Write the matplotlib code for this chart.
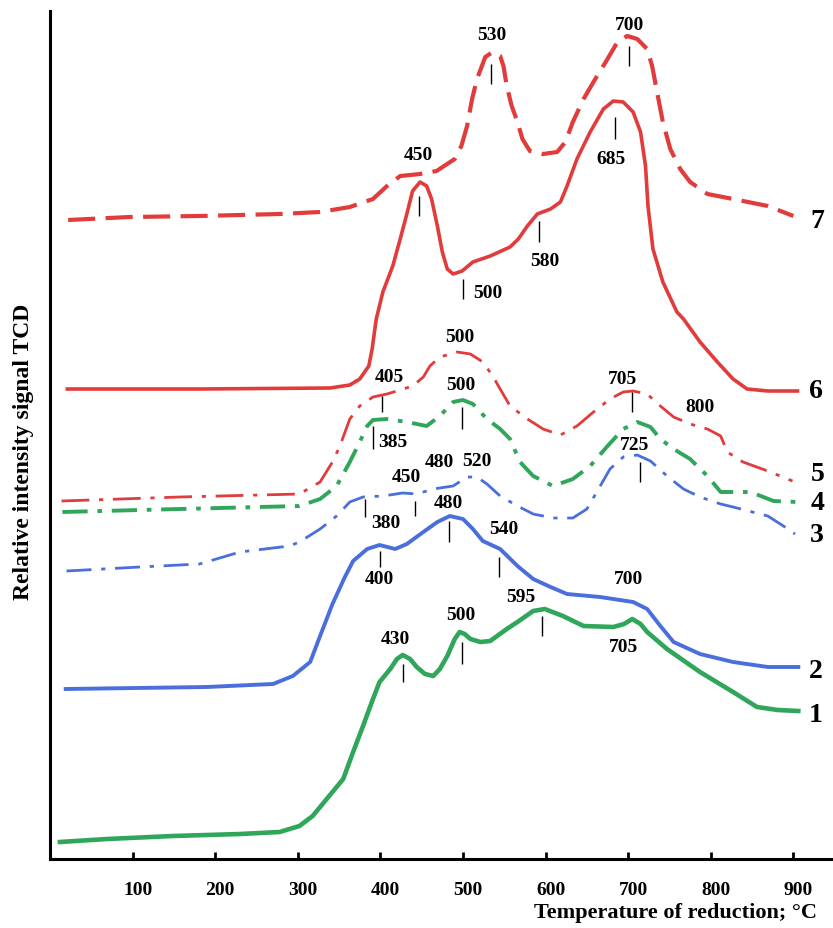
import matplotlib
matplotlib.use('Agg')
import matplotlib.pyplot as plt
import matplotlib.transforms as mtransforms

plt.rcParams['font.family'] = ['Liberation Serif', 'DejaVu Serif']
plt.rcParams['font.weight'] = 'bold'

# curve 1 (green, solid)
t1 = [12, 69, 149, 230, 278, 302, 318, 335, 355, 367, 379, 391, 399, 412, 420, 427, 436, 444, 454, 464,
      472, 481, 490, 496, 502, 509, 521, 533, 553, 566, 585, 599, 621, 646, 682, 695, 705, 715, 723,
      747, 787, 827, 856, 881, 906]
s1 = [1.7, 2.0, 2.3, 2.5, 2.7, 3.3, 4.3, 6.0, 8.0, 10.7, 13.3, 16.0, 17.7, 19.0, 20.0, 20.4, 20.0, 19.2, 18.5, 18.3,
      19.0, 20.3, 22.0, 22.7, 22.5, 22.0, 21.7, 21.8, 23.0, 23.7, 24.8, 25.0, 24.3, 23.3, 23.2, 23.5, 24.0, 23.5, 22.7,
      21.0, 18.7, 16.7, 15.2, 14.9, 14.8]

# curve 2 (blue, solid)
t2 = [19, 190, 270, 294, 315, 327, 342, 357, 367, 384, 399, 418, 432, 452, 469, 484, 500, 512,
      524, 545, 566, 585, 606, 626, 666, 706, 723, 739, 755, 787, 827, 869, 906]
s2 = [17.0, 17.2, 17.5, 18.3, 19.7, 22.3, 25.5, 28.2, 29.8, 31.0, 31.4, 31.0, 31.5, 32.7, 33.7, 34.3, 34.0, 33.0,
      31.8, 31.0, 29.3, 28.0, 27.2, 26.5, 26.2, 25.7, 25.0, 23.3, 21.7, 20.5, 19.7, 19.2, 19.2]

# curve 3 (blue, dash-dot)
t3 = [20, 109, 181, 230, 290, 302, 327, 347, 363, 379, 403, 427, 444, 464, 488, 505, 517, 529,
      545, 566, 585, 609, 633, 650, 662, 678, 694, 711, 727, 747, 767, 787, 812, 827, 869, 888, 902]
s3 = [28.8, 29.2, 29.5, 30.7, 31.3, 31.7, 33.0, 34.3, 35.7, 36.2, 36.3, 36.6, 36.5, 37.0, 37.3, 38.2, 38.2, 37.5,
      36.3, 35.3, 34.5, 34.1, 34.1, 35.0, 36.7, 39.0, 40.2, 40.4, 39.8, 38.3, 37.0, 36.2, 35.5, 35.2, 34.3, 33.3, 32.5]

# curve 4 (green, dash-dot)
t4 = [15, 157, 302, 327, 347, 363, 375, 384, 391, 408, 432, 456, 472, 488, 500, 512, 529, 545,
      557, 569, 585, 609, 633, 654, 675, 694, 711, 727, 739, 755, 775, 796, 812, 848, 876, 905]
s4 = [34.7, 35.0, 35.3, 36.0, 37.3, 39.7, 41.7, 43.3, 43.9, 44.0, 43.7, 43.3, 44.3, 45.7, 45.9, 45.5, 44.0, 43.0,
      42.0, 39.7, 38.3, 37.3, 38.0, 39.3, 41.3, 43.0, 43.7, 43.2, 42.0, 41.0, 40.0, 38.3, 36.7, 36.7, 35.8, 35.7]

# curve 5 (red, dash-dot)
t5 = [14, 157, 302, 327, 342, 351, 363, 375, 391, 408, 424, 439, 452, 460, 472, 493, 509, 524,
      536, 545, 557, 578, 597, 618, 638, 658, 678, 694, 706, 723, 739, 755, 775, 796, 812, 820,
      839, 869, 899]
s5 = [35.8, 36.2, 36.5, 37.7, 39.7, 41.3, 44.0, 45.3, 46.2, 46.5, 46.9, 47.3, 48.2, 49.3, 50.2, 50.7, 50.5, 49.7,
      48.3, 47.0, 45.3, 44.0, 43.0, 42.4, 43.3, 44.7, 46.0, 46.7, 46.8, 46.5, 45.3, 44.2, 43.5, 43.0, 42.3, 40.7,
      39.7, 38.8, 37.8]

# curve 6 (red, solid)
t6 = [21, 181, 339, 363, 375, 386, 390, 395, 403, 415, 424, 432, 439, 448, 456, 462, 469, 475,
      481, 488, 499, 512, 533, 557, 567, 578, 590, 606, 618, 626, 638, 654, 670, 682, 694, 706,
      715, 721, 724, 730, 742, 759, 767, 787, 808, 827, 844, 869, 905]
s6 = [47.0, 47.0, 47.1, 47.4, 48.0, 49.3, 51.0, 54.0, 56.7, 59.3, 62.0, 64.5, 66.8, 67.7, 67.3, 66.0, 63.3, 60.7,
      59.0, 58.5, 58.8, 59.7, 60.3, 61.2, 62.0, 63.3, 64.5, 65.0, 65.7, 67.3, 70.0, 72.7, 75.0, 75.8, 75.7, 74.7,
      72.7, 69.3, 65.3, 61.0, 57.7, 54.7, 54.0, 51.7, 49.7, 48.0, 47.0, 46.8, 46.8]

# curve 7 (red, dashed)
t7 = [22, 96, 181, 278, 327, 363, 391, 408, 424, 448, 468, 490, 498, 505, 511, 517, 527, 536,
      545, 549, 553, 559, 566, 572, 581, 597, 614, 624, 633, 646, 658, 675, 687, 699, 711, 723,
      729, 735, 742, 751, 763, 775, 796, 827, 869, 900]
s7 = [63.9, 64.2, 64.3, 64.5, 64.7, 65.2, 66.0, 67.3, 68.3, 68.5, 68.8, 70.0, 71.3, 73.3, 76.0, 78.0, 80.2, 80.7,
      80.3, 79.3, 77.3, 75.3, 73.7, 72.0, 70.8, 70.5, 70.7, 71.7, 73.7, 76.0, 77.7, 80.0, 81.7, 82.3, 82.0, 81.0,
      79.3, 76.7, 73.7, 71.0, 69.0, 67.7, 66.5, 66.0, 65.3, 64.3]

# peak labels: text, x, y
peak_text = ['530', '700', '450', '685', '580', '500', '500', '405', '705', '800', '500', '385', '725',
             '450', '480', '520', '380', '480', '540', '400', '700', '595', '500', '705', '430']
peak_x = [535, 702, 446, 679, 599, 530, 496, 411, 693, 787, 497, 415, 708,
          432, 472, 517, 407, 482, 550, 399, 700, 570, 497, 694, 418]
peak_y = [82.5, 83.5, 70.4, 70.0, 59.8, 56.7, 52.2, 48.3, 48.1, 45.3, 47.4, 41.7, 41.4,
          38.3, 39.7, 39.8, 33.7, 35.6, 33.0, 28.0, 28.0, 26.3, 24.5, 21.2, 22.0]

# small marker strokes under peaks: x, top, bottom
mark_x = [534, 701, 447, 684, 592, 500, 402, 499, 705, 391, 714, 381, 442, 483, 544, 399, 596, 499, 427]
mark_top = [79.5, 81.3, 66.3, 74.2, 63.8, 58.0, 46.3, 45.2, 46.7, 43.3, 39.7, 36.0, 35.8, 33.8, 30.2, 30.8, 24.3, 21.7, 19.5]
mark_bot = [77.5, 79.3, 64.3, 72.0, 61.7, 56.0, 44.7, 43.0, 44.7, 41.0, 37.7, 34.2, 34.3, 31.7, 28.2, 29.2, 22.3, 19.5, 17.7]

# curve numbers at the right end
num_text = ['7', '6', '5', '4', '3', '2', '1']
num_x = [929, 927, 929, 929, 929, 927, 927]
num_y = [63.8, 46.8, 38.5, 35.6, 32.5, 18.8, 14.5]

red = '#e23b3b'
blue = '#4a6edb'
green = '#2fa65a'

fig = plt.figure(figsize=(8.33, 9.29), dpi=100)
ax = fig.add_axes([50 / 833, 69 / 929, 783 / 833, 848 / 929])

line_kw = dict(solid_joinstyle='round', dash_joinstyle='round')
ax.plot(t1, s1, color=green, lw=3.3, **line_kw)
ax.plot(t2, s2, color=blue, lw=2.8, **line_kw)
ax.plot(t3, s3, color=blue, lw=2.0, dashes=(9, 3.5, 1.5, 3.5), **line_kw)
ax.plot(t4, s4, color=green, lw=2.8, dashes=(6.5, 2.5, 1.2, 2.5), **line_kw)
ax.plot(t5, s5, color=red, lw=2.0, dashes=(10, 3.5, 1.5, 3.5), **line_kw)
ax.plot(t6, s6, color=red, lw=2.6, **line_kw)
ax.plot(t7, s7, color=red, lw=3.0, dashes=(6.5, 2.5), **line_kw)

for s, x, y in zip(peak_text, peak_x, peak_y):
    ax.text(x, y, s, ha='center', va='center', fontsize=14, fontweight='bold')
ax.vlines(mark_x, mark_bot, mark_top, color='black', lw=1.0)

for s, x, y in zip(num_text, num_x, num_y):
    ax.text(x, y, s, ha='center', va='center', fontsize=20, fontweight='bold')

ax.set_xlim(0, 948)
ax.set_ylim(0, 84.8)
ax.set_xticks([100, 200, 300, 400, 500, 600, 700, 800, 900])
ax.set_yticks([])
ax.tick_params(axis='x', direction='in', length=5, width=2, pad=16, labelsize=14)
shift = mtransforms.ScaledTranslation(5 / 100, 0, fig.dpi_scale_trans)
for lab in ax.get_xticklabels():
    lab.set_fontweight('bold')
    lab.set_transform(lab.get_transform() + shift)
ax.spines['top'].set_visible(False)
ax.spines['right'].set_visible(False)
ax.spines['left'].set_linewidth(2.2)
ax.spines['bottom'].set_linewidth(2.2)

fig.text(817 / 833, 1 - 913 / 929, 'Temperature of reduction; °C',
         ha='right', va='center', fontsize=16, fontweight='bold')
fig.text(24 / 833, 1 - 452 / 929, 'Relative intensity signal TCD',
         ha='center', va='center', rotation=90, fontsize=17, fontweight='bold')

fig.savefig('out.png', dpi=100)
